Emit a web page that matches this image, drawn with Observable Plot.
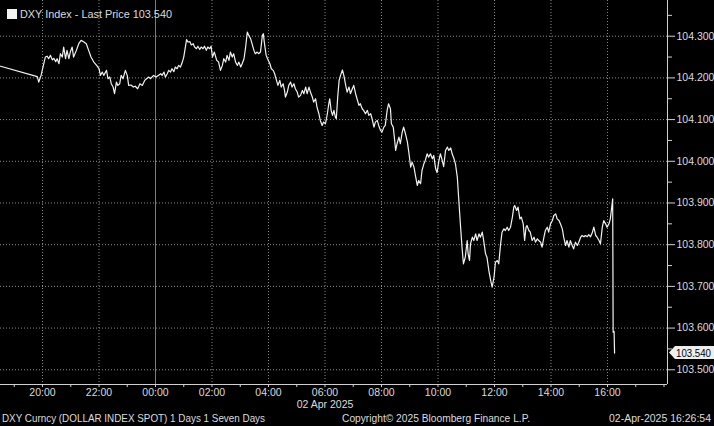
<!DOCTYPE html>
<html><head><meta charset="utf-8">
<script src="https://cdn.jsdelivr.net/npm/d3@7"></script>
<script src="https://cdn.jsdelivr.net/npm/@observablehq/plot@0.6"></script>
<style>
html,body{margin:0;padding:0;background:#000;}
#wrap{position:relative;width:714px;height:426px;overflow:hidden;background:#000;}
#wrap svg.ov{position:absolute;left:0;top:0;pointer-events:none;}
</style></head>
<body><div id="wrap"></div>
<script>
const times = ["18:31","19:49","19:52","19:57","20:01","20:06","20:10","20:13","20:17","20:21","20:24","20:28","20:31","20:35","20:38","20:42","20:45","20:49","20:52","20:56","20:59","21:03","21:06","21:12","21:17","21:22","21:28","21:33","21:38","21:43","21:49","21:55","22:00","22:03","22:07","22:10","22:16","22:19","22:23","22:26","22:30","22:33","22:37","22:40","22:44","22:47","22:51","22:56","23:00","23:03","23:08","23:13","23:17","23:22","23:27","23:32","23:37","23:41","23:46","23:49","23:56","00:01","00:06","00:11","00:14","00:18","00:21","00:25","00:28","00:32","00:35","00:39","00:42","00:46","00:49","00:53","00:57","01:00","01:04","01:06","01:09","01:13","01:16","01:20","01:23","01:27","01:30","01:34","01:37","01:41","01:44","01:48","01:51","01:55","01:58","02:01","02:05","02:10","02:14","02:18","02:22","02:25","02:29","02:32","02:36","02:39","02:43","02:46","02:50","02:54","02:57","03:01","03:04","03:08","03:11","03:15","03:18","03:22","03:25","03:29","03:32","03:36","03:39","03:43","03:47","03:49","03:51","03:55","03:58","04:03","04:06","04:10","04:13","04:17","04:20","04:24","04:27","04:31","04:34","04:36","04:40","04:43","04:47","04:50","04:54","04:57","05:01","05:04","05:08","05:12","05:15","05:19","05:22","05:26","05:29","05:33","05:36","05:40","05:43","05:47","05:50","05:54","05:57","06:01","06:05","06:08","06:10","06:13","06:16","06:19","06:22","06:24","06:27","06:30","06:33","06:37","06:40","06:44","06:47","06:51","06:54","06:58","07:01","07:05","07:08","07:12","07:15","07:19","07:22","07:26","07:30","07:33","07:37","07:40","07:44","07:47","07:51","07:54","07:58","08:01","08:05","08:08","08:12","08:15","08:19","08:21","08:25","08:28","08:30","08:33","08:37","08:40","08:44","08:47","08:51","08:55","08:58","09:02","09:05","09:09","09:12","09:16","09:19","09:23","09:26","09:30","09:33","09:37","09:40","09:44","09:48","09:51","09:55","09:58","10:02","10:05","10:09","10:12","10:16","10:20","10:23","10:27","10:30","10:34","10:37","10:41","10:44","10:48","10:51","10:54","10:56","10:58","11:02","11:04","11:07","11:09","11:13","11:16","11:20","11:23","11:27","11:30","11:34","11:37","11:41","11:44","11:48","11:52","11:55","11:59","12:02","12:06","12:09","12:13","12:16","12:20","12:23","12:27","12:30","12:34","12:38","12:41","12:43","12:47","12:50","12:54","12:57","13:01","13:04","13:07","13:09","13:13","13:16","13:20","13:24","13:27","13:31","13:34","13:38","13:41","13:45","13:48","13:52","13:55","13:59","14:03","14:06","14:10","14:13","14:17","14:20","14:24","14:27","14:31","14:34","14:38","14:41","14:45","14:48","14:52","14:56","14:59","15:03","15:06","15:10","15:13","15:17","15:20","15:24","15:28","15:31","15:35","15:38","15:42","15:45","15:49","15:52","15:56","15:59","16:03","16:06","16:09","16:11","16:12","16:14","16:15"];
const prices = [104.228,104.203,104.190,104.206,104.226,104.250,104.252,104.246,104.254,104.243,104.247,104.239,104.246,104.234,104.258,104.250,104.274,104.246,104.266,104.246,104.262,104.274,104.250,104.266,104.282,104.290,104.286,104.282,104.266,104.250,104.238,104.230,104.222,104.206,104.214,104.206,104.218,104.198,104.202,104.186,104.178,104.162,104.190,104.182,104.186,104.206,104.198,104.218,104.206,104.182,104.183,104.178,104.180,104.174,104.186,104.182,104.194,104.198,104.202,104.198,104.206,104.202,104.206,104.210,104.206,104.214,104.202,104.210,104.218,104.214,104.222,104.215,104.226,104.222,104.230,104.226,104.238,104.250,104.278,104.292,104.286,104.287,104.279,104.282,104.274,104.270,104.276,104.268,104.274,104.270,104.276,104.266,104.274,104.270,104.276,104.250,104.262,104.242,104.238,104.218,104.230,104.246,104.238,104.254,104.242,104.262,104.250,104.258,104.238,104.230,104.238,104.226,104.234,104.246,104.270,104.310,104.302,104.294,104.282,104.266,104.258,104.262,104.258,104.262,104.302,104.306,104.286,104.254,104.246,104.234,104.222,104.218,104.210,104.194,104.182,104.194,104.178,104.186,104.170,104.154,104.166,104.182,104.190,104.178,104.186,104.174,104.166,104.154,104.158,104.170,104.162,104.178,104.162,104.178,104.166,104.154,104.142,104.150,104.130,104.114,104.098,104.086,104.094,104.090,104.114,104.138,104.150,104.122,104.110,104.122,104.106,104.102,104.154,104.194,104.206,104.219,104.206,104.182,104.166,104.178,104.162,104.174,104.182,104.162,104.150,104.134,104.138,104.126,104.122,104.114,104.122,104.110,104.114,104.102,104.082,104.094,104.098,104.086,104.074,104.070,104.082,104.086,104.122,104.138,104.126,104.090,104.082,104.050,104.026,104.042,104.058,104.042,104.070,104.082,104.066,104.046,104.022,103.986,103.998,103.986,103.966,103.942,103.954,103.946,103.978,103.994,104.002,104.018,104.010,104.018,104.006,104.014,103.982,103.973,104.002,104.018,104.002,103.987,104.026,104.034,104.026,104.032,104.018,104.006,103.994,103.962,103.910,103.842,103.794,103.754,103.762,103.770,103.810,103.778,103.762,103.802,103.818,103.810,103.826,103.810,103.826,103.818,103.830,103.810,103.778,103.770,103.738,103.714,103.698,103.722,103.758,103.762,103.754,103.802,103.830,103.838,103.834,103.842,103.834,103.842,103.866,103.890,103.894,103.882,103.890,103.862,103.866,103.850,103.810,103.842,103.846,103.834,103.830,103.810,103.818,103.806,103.814,103.810,103.806,103.794,103.818,103.834,103.842,103.830,103.850,103.858,103.870,103.874,103.862,103.858,103.850,103.838,103.818,103.798,103.810,103.794,103.810,103.798,103.790,103.806,103.798,103.806,103.818,103.822,103.819,103.822,103.819,103.824,103.819,103.830,103.842,103.822,103.818,103.810,103.802,103.842,103.858,103.850,103.842,103.850,103.862,103.890,103.910,103.590,103.592,103.540];
const yTickValues = [103.5,103.6,103.7,103.8,103.9,104.0,104.1,104.2,104.3];
const yMinorValues = [103.55,103.65,103.75,103.85,103.95,104.05,104.15,104.25,104.35];
const xTickLabels = ["20:00","22:00","00:00","02:00","04:00","06:00","08:00","10:00","12:00","14:00","16:00"];
const lastPrice = 103.540;
const legendLabel = "DXY Index - Last Price 103.540";
const dateLabel = "02 Apr 2025";
const footerLeft = "DXY Curncy (DOLLAR INDEX SPOT) 1 Days 1 Seven Days";
const footerCenter = "Copyright\u00A9 2025 Bloomberg Finance L.P.";
const footerRight = "02-Apr-2025 16:26:54";

const FONT = "'Liberation Sans', Arial, sans-serif";
const parseT = t => { const [h, m] = t.split(":").map(Number); return new Date(Date.UTC(2025, 3, h >= 18 ? 1 : 2, h, m)); };
const data = times.map((t, i) => ({date: parseT(t), price: prices[i]}));
const xDomain = [new Date(Date.UTC(2025, 3, 1, 18, 30, 47)), new Date(Date.UTC(2025, 3, 2, 18, 7, 26))];
const yDomain = [103.4647, 104.3856];
const hourTicks = d3.utcHour.range(d3.utcHour.ceil(xDomain[0]), xDomain[1]);
const midnight = new Date(Date.UTC(2025, 3, 2, 0, 0));
const fmt = d3.utcFormat("%H:%M");
const labelledTimes = hourTicks.filter(d => xTickLabels.includes(fmt(d)) && d < new Date(Date.UTC(2025, 3, 2, 17)));
const gridTimes = labelledTimes.filter(d => +d !== +midnight);

const chart = Plot.plot({
  width: 714, height: 426,
  marginTop: 0, marginRight: 47, marginBottom: 42, marginLeft: 0,
  style: {background: "#000", color: "#d8d8d8", fontFamily: FONT, fontSize: "10.5px"},
  x: {type: "utc", domain: xDomain, label: null},
  y: {domain: yDomain, label: null},
  marks: [
    Plot.ruleY(yTickValues, {stroke: "#8a8a8a", strokeDasharray: "1,2", strokeWidth: 1}),
    Plot.ruleX(gridTimes, {stroke: "#8a8a8a", strokeDasharray: "1,2", strokeWidth: 1}),
    Plot.ruleX([midnight], {stroke: "#7c7c7c"}),
    Plot.line(data, {x: "date", y: "price", stroke: "#f2f2f2", strokeWidth: 1.2}),
    Plot.axisY(yTickValues, {anchor: "right", tickSize: 7, tickPadding: 2, tickFormat: d => d.toFixed(3), label: null, stroke: "#d0d0d0", fill: "#dcdcdc"}),
    Plot.axisY(yMinorValues.filter(v => v < yDomain[1]), {anchor: "right", tickSize: 4, tickFormat: () => "", label: null, stroke: "#d0d0d0"}),
    Plot.axisX(hourTicks, {anchor: "bottom", tickSize: 3, tickPadding: 1, tickFormat: d => labelledTimes.some(t => +t === +d) ? fmt(d) : "", label: null, stroke: "#d0d0d0", fill: "#dcdcdc"}),
    Plot.ruleX([xDomain[1]], {stroke: "#d0d0d0"}),
    Plot.ruleY([yDomain[0]], {stroke: "#d0d0d0"}),
    Plot.text([dateLabel], {x: [new Date(Date.UTC(2025, 3, 2, 6, 0))], text: d => d, frameAnchor: "bottom", dy: 23, fill: "#dcdcdc"})
  ]
});
const wrap = document.getElementById("wrap");
wrap.appendChild(chart);

const yPix = chart.scale("y").apply(lastPrice);
const ov = d3.select(wrap).append("svg").attr("class", "ov").attr("width", 714).attr("height", 426)
  .style("font-family", FONT);
ov.append("rect").attr("x", 7).attr("y", 9).attr("width", 10).attr("height", 10).attr("fill", "#f2f2f2");
const txt = (s, x, y, len, anchor, fill, size) => ov.append("text").attr("x", x).attr("y", y)
  .attr("text-anchor", anchor || "start").attr("fill", fill || "#dcdcdc").attr("font-size", size || 10.5)
  .attr("textLength", len).attr("lengthAdjust", "spacingAndGlyphs").text(s);
txt(legendLabel, 20, 18.3, 152);
txt(footerLeft, 2, 422, 263);
txt(footerCenter, 342, 422, 188);
txt(footerRight, 609, 422, 102);
ov.append("path").attr("d", `M669,${yPix} L675,${yPix - 6.5} L714,${yPix - 6.5} L714,${yPix + 6.5} L675,${yPix + 6.5} Z`).attr("fill", "#eeeeee");
txt(lastPrice.toFixed(3), 676, yPix + 4, 35, "start", "#000");
</script>
</body></html>
